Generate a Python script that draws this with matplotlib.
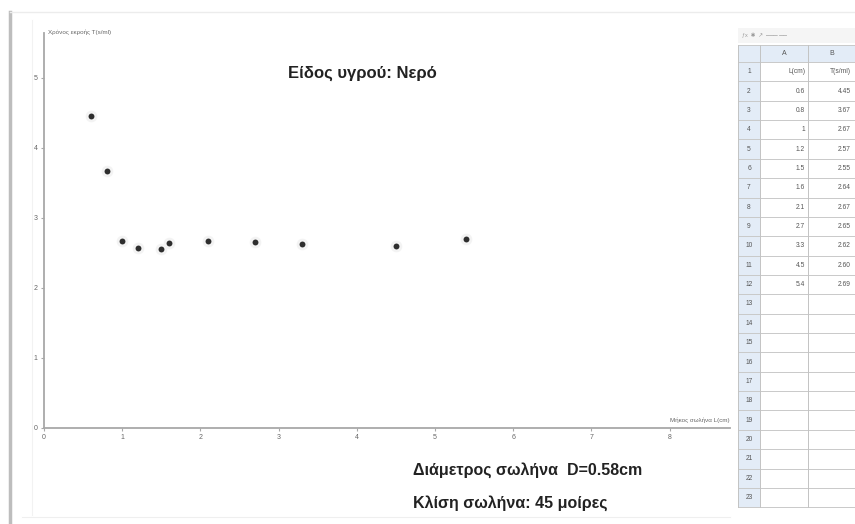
import matplotlib.pyplot as plt
from matplotlib.patches import Rectangle

plt.rcParams['font.family'] = ['Liberation Sans', 'DejaVu Sans']

# measurements: tube length L (cm) and time per ml
L_cm = [0.6, 0.8, 1.0, 1.2, 1.5, 1.6, 2.1, 2.7, 3.3, 4.5, 5.4]
T_val = [4.45, 3.67, 2.67, 2.57, 2.55, 2.64, 2.67, 2.65, 2.62, 2.60, 2.69]
x_ticks = [0, 1, 2, 3, 4, 5, 6, 7, 8]
y_ticks = [0, 1, 2, 3, 4, 5]

title = 'Είδος υγρού: Νερό'
x_label = 'Μήκος σωλήνα L(cm)'
y_label = 'Χρόνος εκροής T(s/ml)'
note1 = 'Διάμετρος σωλήνα  D=0.58cm'
note2 = 'Κλίση σωλήνα: 45 μοίρες'
col_heads = ['A', 'B']
row_heads = ['L(cm)', 'T(s/ml)']
n_rows = 23

W, H = 855, 524
fig = plt.figure(figsize=(W / 100, H / 100), dpi=100)


def px_axes(x0, y0, x1, y1):
    return fig.add_axes([x0 / W, 1 - y1 / H, (x1 - x0) / W, (y1 - y0) / H])


# window frame
frame = px_axes(0, 0, W, H)
frame.set_xlim(0, W)
frame.set_ylim(H, 0)
frame.axis('off')
frame.plot([10, 10], [12, H], color='#bdbdbd', lw=2.5)
frame.plot([10, W], [12, 12], color='#ececec', lw=1)
frame.plot([32, 32], [20, 515], color='#f2f2f2', lw=0.8)
frame.plot([22, 730], [517, 517], color='#efefef', lw=0.8)

# graphics view
ax = px_axes(13, 15, 730, 520)
ax.set_xlim(-0.396, 8.772)
ax.set_ylim(-1.321, 5.893)
ax.patch.set_alpha(0)
for s in ['top', 'right']:
    ax.spines[s].set_visible(False)
ax.spines['left'].set_position(('data', 0))
ax.spines['bottom'].set_position(('data', 0))
ax.spines['left'].set_bounds(0, 5.64)
ax.spines['bottom'].set_bounds(0, 8.77)
for s in ['left', 'bottom']:
    ax.spines[s].set_color('#a8a8a8')
    ax.spines[s].set_linewidth(1.3)
ax.set_xticks(x_ticks)
ax.set_yticks(y_ticks)
ax.tick_params(length=2.5, width=0.8, color='#a8a8a8', labelsize=5,
               labelcolor='#666666', pad=2)

ax.scatter(L_cm, T_val, s=70, color='#f3f3f3', zorder=2, linewidths=0)
ax.scatter(L_cm, T_val, s=18, color='#2e2e2e', zorder=3, linewidths=0)

ax.text(8.77, 0.07, x_label, ha='right', va='bottom', fontsize=4.5, color='#666666')
ax.text(0.05, 5.64, y_label, ha='left', va='center', fontsize=4.5, color='#666666')

fig.text(362 / W, 1 - 73 / H, title, ha='center', va='center',
         fontsize=12, fontweight='bold', color='#222222')
fig.text(413 / W, 1 - 470 / H, note1, ha='left', va='center',
         fontsize=11.5, fontweight='bold', color='#222222')
fig.text(413 / W, 1 - 503 / H, note2, ha='left', va='center',
         fontsize=11.5, fontweight='bold', color='#222222')

# spreadsheet view
sp = px_axes(735, 25, W, 520)
sp.set_xlim(735, W)
sp.set_ylim(520, 25)
sp.axis('off')
row_h = 19.36
top = 62
bottom = top + n_rows * row_h
sp.add_patch(Rectangle((738, 28), W - 738, 15, color='#f5f5f5', lw=0))
sp.text(742, 35.5, 'ƒx  ✱  ↗  ─── ──', fontsize=4, color='#9a9a9a', va='center')
sp.add_patch(Rectangle((738, 45), W - 738, top - 45, color='#e3ecf7', lw=0))
sp.add_patch(Rectangle((738, top), 22, bottom - top, color='#e3ecf7', lw=0))
for i in range(n_rows + 1):
    y = top + i * row_h
    sp.plot([738, W], [y, y], color='#c9c9c9', lw=0.7)
sp.plot([738, W], [45, 45], color='#c9c9c9', lw=0.7)
for xv in [738, 760, 808]:
    sp.plot([xv, xv], [45, bottom], color='#c3c3c3', lw=0.7)
sp.text(784, 53.5, col_heads[0], ha='center', va='center', fontsize=5, color='#555555')
sp.text(832, 53.5, col_heads[1], ha='center', va='center', fontsize=5, color='#555555')
for i in range(n_rows):
    yc = top + (i + 0.5) * row_h
    sp.text(749, yc, str(i + 1), ha='center', va='center', fontsize=4.8, color='#555555')
yc = top + 0.5 * row_h
sp.text(805, yc, row_heads[0], ha='right', va='center', fontsize=4.8, color='#555555')
sp.text(851, yc, row_heads[1], ha='right', va='center', fontsize=4.8, color='#555555')
for i, (lv, tv) in enumerate(zip(L_cm, T_val)):
    yc = top + (i + 1.5) * row_h
    sp.text(805, yc, f'{lv:g}', ha='right', va='center', fontsize=4.8, color='#555555')
    sp.text(851, yc, f'{tv:.2f}', ha='right', va='center', fontsize=4.8, color='#555555')

fig.savefig('out.png', dpi=100)
